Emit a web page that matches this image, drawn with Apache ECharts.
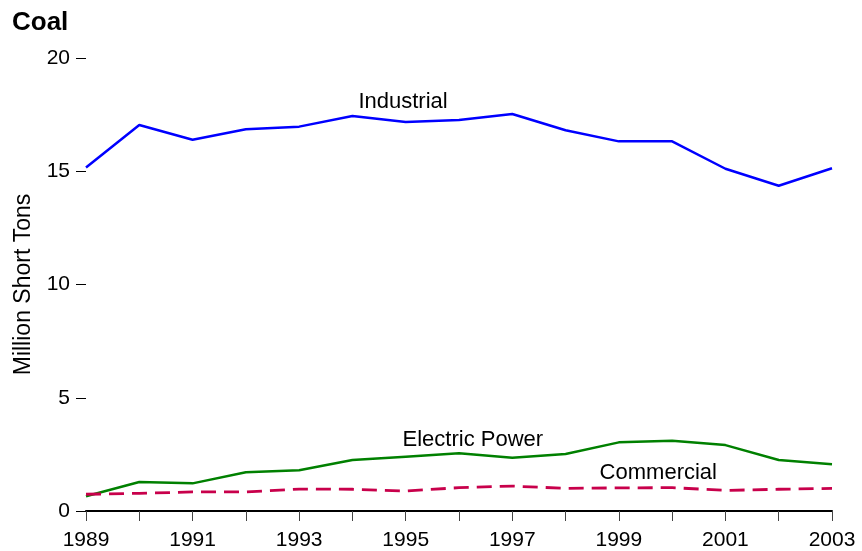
<!DOCTYPE html>
<html>
<head>
<meta charset="utf-8">
<script src="https://cdn.jsdelivr.net/npm/echarts@6/dist/echarts.min.js"></script>
<style>
  html, body { margin: 0; padding: 0; background: #fff; }
  #coal { width: 862px; height: 551px; }
</style>
</head>
<body>
<div id="coal"></div>
<script>
// data
var years = [1989, 1990, 1991, 1992, 1993, 1994, 1995, 1996, 1997, 1998, 1999, 2000, 2001, 2002, 2003];
var industrial = [15.17, 17.04, 16.39, 16.85, 16.97, 17.44, 17.17, 17.26, 17.53, 16.81, 16.32, 16.32, 15.11, 14.36, 15.13];
var electricPower = [0.65, 1.28, 1.22, 1.71, 1.8, 2.25, 2.4, 2.55, 2.35, 2.52, 3.03, 3.1, 2.91, 2.25, 2.06];
var commercial = [0.74, 0.78, 0.84, 0.84, 0.97, 0.96, 0.88, 1.03, 1.1, 1.0, 1.02, 1.03, 0.91, 0.96, 1.0];
var yTicks = [0, 5, 10, 15, 20];

(function () {
  var myChart = echarts.init(document.getElementById("coal"));
  var font = "Liberation Sans, Arial, sans-serif";

  function pairs(vals) {
    return years.map(function (y, i) {
      return [y, vals[i]];
    });
  }

  // text label sitting near a line, in data coords
  function tag(text, x, y) {
    return {
      symbol: "circle",
      symbolSize: 1,
      silent: true,
      itemStyle: { color: "rgba(0,0,0,0)" },
      label: {
        show: true,
        position: "inside",
        formatter: text,
        color: "#000",
        fontSize: 22,
        fontFamily: font,
      },
      data: [{ coord: [x, y], value: text }],
    };
  }

  var option = {
    animation: false,
    title: {
      text: "Coal",
      left: 7,
      top: 5,
      textStyle: {
        fontFamily: font,
        fontSize: 26,
        fontWeight: "bold",
        color: "#000",
      },
    },
    grid: {
      left: 86,
      right: 30,
      top: 58,
      bottom: 40,
    },
    xAxis: {
      type: "value",
      min: years[0],
      max: years[years.length - 1],
      interval: 1,
      axisLine: {
        show: true,
        lineStyle: { color: "#000", width: 2 },
      },
      axisTick: {
        show: true,
        length: 10,
        lineStyle: { color: "#444", width: 1 },
      },
      axisLabel: {
        color: "#000",
        fontSize: 21,
        fontFamily: font,
        margin: 19,
        formatter: function (v) {
          return v % 2 === 1 ? String(v) : "";
        },
      },
      splitLine: { show: false },
    },
    yAxis: {
      type: "value",
      min: yTicks[0],
      max: yTicks[yTicks.length - 1],
      interval: 5,
      name: "Million Short Tons",
      nameLocation: "middle",
      nameGap: 51,
      nameTextStyle: {
        color: "#000",
        fontSize: 23,
        fontFamily: font,
      },
      axisLine: { show: false },
      axisTick: {
        show: true,
        length: 10,
        lineStyle: { color: "#000", width: 1 },
      },
      axisLabel: {
        color: "#000",
        fontSize: 21,
        fontFamily: font,
        margin: 16,
      },
      splitLine: { show: false },
    },
    series: [
      {
        name: "Industrial",
        type: "line",
        data: pairs(industrial),
        showSymbol: false,
        lineStyle: { color: "#0000ff", width: 2.5 },
        markPoint: tag("Industrial", 1994.95, 18.05),
      },
      {
        name: "Electric Power",
        type: "line",
        data: pairs(electricPower),
        showSymbol: false,
        lineStyle: { color: "#008000", width: 2.5 },
        markPoint: tag("Electric Power", 1996.26, 3.15),
      },
      {
        name: "Commercial",
        type: "line",
        data: pairs(commercial),
        showSymbol: false,
        lineStyle: { color: "#c8004b", width: 2.8, type: [15, 8] },
        markPoint: tag("Commercial", 1999.74, 1.67),
      },
    ],
  };

  myChart.setOption(option);
  window.addEventListener("resize", function () {
    myChart.resize();
  });
})();
</script>
</body>
</html>
